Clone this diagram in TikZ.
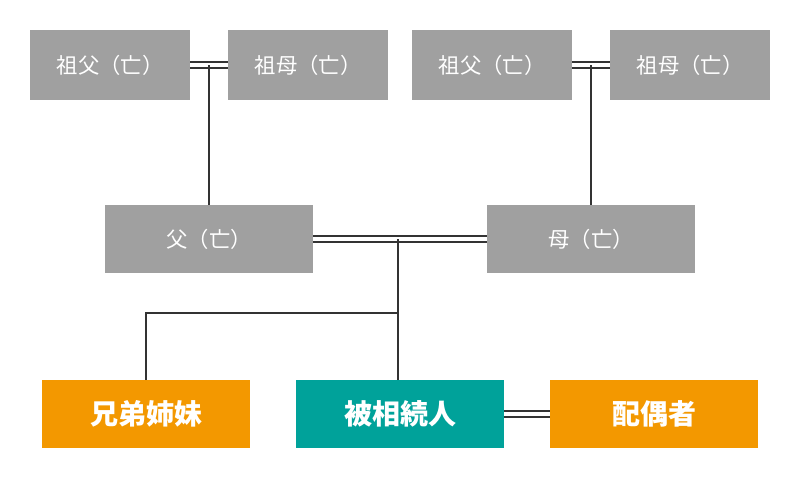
\documentclass[tikz,border=0pt]{standalone}
\usepackage{fontspec}
\setmainfont{Noto Sans CJK JP}
\usetikzlibrary{positioning,calc}
\definecolor{boxgray}{HTML}{A0A0A0}
\definecolor{kinorange}{HTML}{F39800}
\definecolor{heirteal}{HTML}{00A29A}
\definecolor{linegray}{HTML}{333333}
\begin{document}
\begin{tikzpicture}[x=0.75pt,y=-0.75pt,
  elder/.style={fill=boxgray,text=white,minimum width=120pt,minimum height=52.5pt,inner sep=0pt,font=\fontsize{16}{18}\selectfont},
  parent/.style={fill=boxgray,text=white,minimum width=156pt,minimum height=51pt,inner sep=0pt,font=\fontsize{16}{18}\selectfont},
  family/.style={text=white,minimum width=156pt,minimum height=51pt,inner sep=0pt,font=\fontsize{21}{24}\selectfont\bfseries},
  link/.style={draw=linegray,line width=1.5pt},
  marriage/.style={draw=linegray,line width=1.5pt,double=white,double distance=3pt}]
\useasboundingbox (0,0) rectangle (800,486);
\node[elder] (gfl) at (110,65) {祖父（亡）};
\node[elder] (gml) at (308,65) {祖母（亡）};
\node[elder] (gfr) at (492,65) {祖父（亡）};
\node[elder] (gmr) at (690,65) {祖母（亡）};
\node[parent] (father) at (209,239) {父（亡）};
\node[parent] (mother) at (591,239) {母（亡）};
\node[family,fill=kinorange] (siblings) at (146,414) {兄弟姉妹};
\node[family,fill=heirteal] (heir) at (400,414) {被相続人};
\node[family,fill=kinorange] (spouse) at (654,414) {配偶者};

\draw[marriage] (gfl) -- (gml);
\draw[marriage] (gfr) -- (gmr);
\draw[marriage] (father) -- (mother);
\draw[marriage] (heir) -- (spouse);
\draw[link] (gfl.east -| father.north) -- (father.north);
\draw[link] (gfr.east -| mother.north) -- (mother.north);
\coordinate (mid) at ($(father.east)!0.5!(mother.west)$);
\coordinate (fork) at (398,313);
\draw[link] (mid -| fork) -- (heir.north -| fork);
\draw[link] (fork) -- (fork -| siblings.north) -- (siblings.north);
\end{tikzpicture}
\end{document}
